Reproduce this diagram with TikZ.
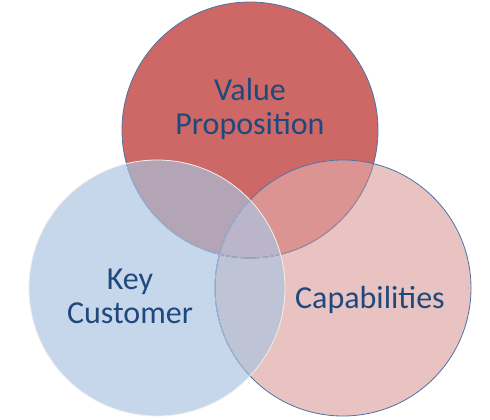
\documentclass[tikz,border=0pt]{standalone}
\usepackage{fontspec}
\setmainfont{Carlito}
\usepackage{tikz}
\usetikzlibrary{positioning}

\definecolor{vpred}{HTML}{CD6866}
\definecolor{kcblue}{HTML}{C6D7EB}
\definecolor{cappink}{HTML}{E8C3C2}
\definecolor{vpkc}{HTML}{B3A5B6}
\definecolor{vpcap}{HTML}{DB9492}
\definecolor{kccap}{HTML}{BFC3D6}
\definecolor{allthree}{HTML}{BBB5C9}
\definecolor{rimblue}{HTML}{4F72A6}
\definecolor{rimwhite}{HTML}{F2EEE8}
\definecolor{textblue}{HTML}{1F497D}

\newcommand{\rad}{128pt}

\begin{document}
\begin{tikzpicture}[
    x=1pt, y=-1pt,
    setname/.style={text=textblue, align=center, inner sep=0pt, font=\fontsize{32}{34}\selectfont},
    rim/.style={line width=0.8pt}
]
    \useasboundingbox (0,0) rectangle (490,420);
    \coordinate (vp) at (250,130);
    \coordinate (kc) at (157,288);
    \coordinate (cap) at (343,288);

    % the three sets
    \fill[vpred] (vp) circle[radius=\rad];
    \fill[cappink] (cap) circle[radius=\rad];
    \fill[kcblue] (kc) circle[radius=\rad];

    % overlaps
    \begin{scope}
        \clip (vp) circle[radius=\rad];
        \fill[vpkc] (kc) circle[radius=\rad];
        \fill[vpcap] (cap) circle[radius=\rad];
    \end{scope}
    \begin{scope}
        \clip (kc) circle[radius=\rad];
        \fill[kccap] (cap) circle[radius=\rad];
        \clip (cap) circle[radius=\rad];
        \fill[allthree] (vp) circle[radius=\rad];
    \end{scope}

    % outlines
    \draw[rim, rimblue] (vp) circle[radius=\rad];
    \draw[rim, rimblue] (cap) circle[radius=\rad];
    \begin{scope}
        \clip (cap) circle[radius=\rad];
        \draw[rim, rimblue!35!vpcap] (vp) circle[radius=\rad];
    \end{scope}
    \begin{scope}
        \clip (kc) circle[radius=\rad];
        \draw[rim, rimblue!30!kcblue] (vp) circle[radius=\rad];
        \draw[rim, rimblue!30!kcblue] (cap) circle[radius=\rad];
    \end{scope}
    \draw[rim, rimwhite] (kc) circle[radius=\rad];

    % labels
    \node[setname] (vptext) at (250,109) {Value\\Proposition};
    \node[setname] (kctext) at (130,296) {Key\\Customer};
    \node[setname] (captext) at (370,300) {Capabilities};
\end{tikzpicture}
\end{document}
